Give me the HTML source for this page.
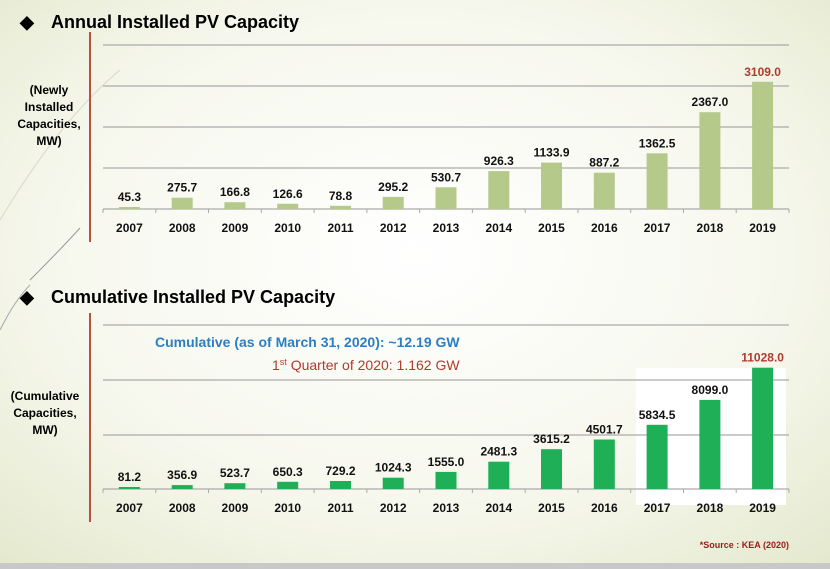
<!DOCTYPE html><html><head><style>body{margin:0}svg{display:block}text{font-family:"Liberation Sans",sans-serif;font-weight:bold}.n{font-weight:normal}</style></head><body>
<svg width="830" height="569" xmlns="http://www.w3.org/2000/svg">
<defs><radialGradient id="bg" cx="0.5" cy="0.45" r="0.75"><stop offset="0" stop-color="#ffffff"/><stop offset="0.6" stop-color="#f6f7ec"/><stop offset="1" stop-color="#e3e8cc"/></radialGradient></defs>
<rect width="830" height="569" fill="url(#bg)"/>
<path d="M0 220 Q60 120 120 70" stroke="#d8d8c8" fill="none"/>
<path d="M30 280 Q60 250 80 228" stroke="#999" fill="none"/>
<path d="M0 330 Q15 300 30 285" stroke="#aaa" fill="none"/>
<rect x="0" y="563" width="830" height="6" fill="#c8c8c8"/>
<text x="20" y="28" font-size="18">◆</text><text x="51" y="28" font-size="18">Annual Installed PV Capacity</text>
<text x="20" y="303" font-size="18">◆</text><text x="51" y="303" font-size="18">Cumulative Installed PV Capacity</text>
<line x1="90" y1="32" x2="90" y2="242" stroke="#b5533c" stroke-width="2"/>
<line x1="90" y1="313" x2="90" y2="522" stroke="#b5533c" stroke-width="2"/>
<g font-size="12" text-anchor="middle"><text x="49" y="94">(Newly</text><text x="49" y="111">Installed</text><text x="49" y="128">Capacities,</text><text x="49" y="145">MW)</text>
<text x="45" y="400">(Cumulative</text><text x="45" y="417">Capacities,</text><text x="45" y="434">MW)</text></g>
<g stroke="#aaa" stroke-width="1.2"><line x1="103" y1="45" x2="789" y2="45"/><line x1="103" y1="86" x2="789" y2="86"/><line x1="103" y1="127" x2="789" y2="127"/><line x1="103" y1="168" x2="789" y2="168"/><line x1="103" y1="209" x2="789" y2="209"/></g>
<rect x="636" y="368" width="150" height="137" fill="#fff"/>
<g stroke="#aaa" stroke-width="1.2"><line x1="103" y1="325" x2="789" y2="325"/><line x1="103" y1="380" x2="789" y2="380"/><line x1="103" y1="435" x2="789" y2="435"/><line x1="103" y1="489" x2="789" y2="489"/></g>
<g stroke="#aaa"><line x1="103" y1="209" x2="103" y2="213"/><line x1="155.8" y1="209" x2="155.8" y2="213"/><line x1="208.5" y1="209" x2="208.5" y2="213"/><line x1="261.3" y1="209" x2="261.3" y2="213"/><line x1="314.1" y1="209" x2="314.1" y2="213"/><line x1="366.9" y1="209" x2="366.9" y2="213"/><line x1="419.6" y1="209" x2="419.6" y2="213"/><line x1="472.4" y1="209" x2="472.4" y2="213"/><line x1="525.2" y1="209" x2="525.2" y2="213"/><line x1="578" y1="209" x2="578" y2="213"/><line x1="630.7" y1="209" x2="630.7" y2="213"/><line x1="683.5" y1="209" x2="683.5" y2="213"/><line x1="736.2" y1="209" x2="736.2" y2="213"/><line x1="789" y1="209" x2="789" y2="213"/>
<line x1="103" y1="489" x2="103" y2="493"/><line x1="155.8" y1="489" x2="155.8" y2="493"/><line x1="208.5" y1="489" x2="208.5" y2="493"/><line x1="261.3" y1="489" x2="261.3" y2="493"/><line x1="314.1" y1="489" x2="314.1" y2="493"/><line x1="366.9" y1="489" x2="366.9" y2="493"/><line x1="419.6" y1="489" x2="419.6" y2="493"/><line x1="472.4" y1="489" x2="472.4" y2="493"/><line x1="525.2" y1="489" x2="525.2" y2="493"/><line x1="578" y1="489" x2="578" y2="493"/><line x1="630.7" y1="489" x2="630.7" y2="493"/><line x1="683.5" y1="489" x2="683.5" y2="493"/><line x1="736.2" y1="489" x2="736.2" y2="493"/><line x1="789" y1="489" x2="789" y2="493"/></g>
<g fill="#b5c98a">
<rect x="118.9" y="207" width="21" height="2"/><rect x="171.7" y="197.7" width="21" height="11.3"/><rect x="224.4" y="202.2" width="21" height="6.8"/><rect x="277.2" y="203.8" width="21" height="5.2"/><rect x="330" y="205.8" width="21" height="3.2"/><rect x="382.7" y="196.9" width="21" height="12.1"/><rect x="435.5" y="187.3" width="21" height="21.7"/><rect x="488.3" y="171.1" width="21" height="37.9"/><rect x="541" y="162.6" width="21" height="46.4"/><rect x="593.8" y="172.7" width="21" height="36.3"/><rect x="646.6" y="153.3" width="21" height="55.7"/><rect x="699.4" y="112.2" width="21" height="96.8"/><rect x="752.1" y="81.8" width="21" height="127.2"/></g>
<g fill="#1eaf57">
<rect x="118.9" y="487" width="21" height="2"/><rect x="171.7" y="485.1" width="21" height="3.9"/><rect x="224.4" y="483.2" width="21" height="5.8"/><rect x="277.2" y="481.8" width="21" height="7.2"/><rect x="330" y="481" width="21" height="8"/><rect x="382.7" y="477.7" width="21" height="11.3"/><rect x="435.5" y="471.9" width="21" height="17.1"/><rect x="488.3" y="461.7" width="21" height="27.3"/><rect x="541" y="449.2" width="21" height="39.8"/><rect x="593.8" y="439.5" width="21" height="49.5"/><rect x="646.6" y="424.8" width="21" height="64.2"/><rect x="699.4" y="399.9" width="21" height="89.1"/><rect x="752.1" y="367.7" width="21" height="121.3"/></g>
<g font-size="12" text-anchor="middle" fill="#111">
<text x="129.4" y="201">45.3</text><text x="182.2" y="191.7">275.7</text><text x="234.9" y="196.2">166.8</text><text x="287.7" y="197.8">126.6</text><text x="340.5" y="199.8">78.8</text><text x="393.2" y="190.9">295.2</text><text x="446" y="181.3">530.7</text><text x="498.8" y="165.1">926.3</text><text x="551.5" y="156.6">1133.9</text><text x="604.3" y="166.7">887.2</text><text x="657.1" y="147.3">1362.5</text><text x="709.9" y="106.2">2367.0</text><text x="762.6" y="75.8" fill="#b03a2e">3109.0</text>
<text x="129.4" y="232">2007</text><text x="182.2" y="232">2008</text><text x="234.9" y="232">2009</text><text x="287.7" y="232">2010</text><text x="340.5" y="232">2011</text><text x="393.2" y="232">2012</text><text x="446" y="232">2013</text><text x="498.8" y="232">2014</text><text x="551.5" y="232">2015</text><text x="604.3" y="232">2016</text><text x="657.1" y="232">2017</text><text x="709.9" y="232">2018</text><text x="762.6" y="232">2019</text>
<text x="129.4" y="481">81.2</text><text x="182.2" y="479.1">356.9</text><text x="234.9" y="477.2">523.7</text><text x="287.7" y="475.8">650.3</text><text x="340.5" y="475">729.2</text><text x="393.2" y="471.7">1024.3</text><text x="446" y="465.9">1555.0</text><text x="498.8" y="455.7">2481.3</text><text x="551.5" y="443.2">3615.2</text><text x="604.3" y="433.5">4501.7</text><text x="657.1" y="418.8">5834.5</text><text x="709.9" y="393.9">8099.0</text><text x="762.6" y="361.7" fill="#b03a2e">11028.0</text>
<text x="129.4" y="512">2007</text><text x="182.2" y="512">2008</text><text x="234.9" y="512">2009</text><text x="287.7" y="512">2010</text><text x="340.5" y="512">2011</text><text x="393.2" y="512">2012</text><text x="446" y="512">2013</text><text x="498.8" y="512">2014</text><text x="551.5" y="512">2015</text><text x="604.3" y="512">2016</text><text x="657.1" y="512">2017</text><text x="709.9" y="512">2018</text><text x="762.6" y="512">2019</text></g>
<text x="155" y="347" font-size="14" fill="#2a7fc4">Cumulative (as of March 31, 2020): ~12.19 GW</text>
<text x="272" y="370" font-size="14" fill="#b03a2e" class="n">1<tspan font-size="9" dy="-5">st</tspan><tspan dy="5"> Quarter of 2020: 1.162 GW</tspan></text>
<text x="789" y="548" font-size="9" fill="#9b1c1c" text-anchor="end">*Source : KEA (2020)</text>
</svg></body></html>
